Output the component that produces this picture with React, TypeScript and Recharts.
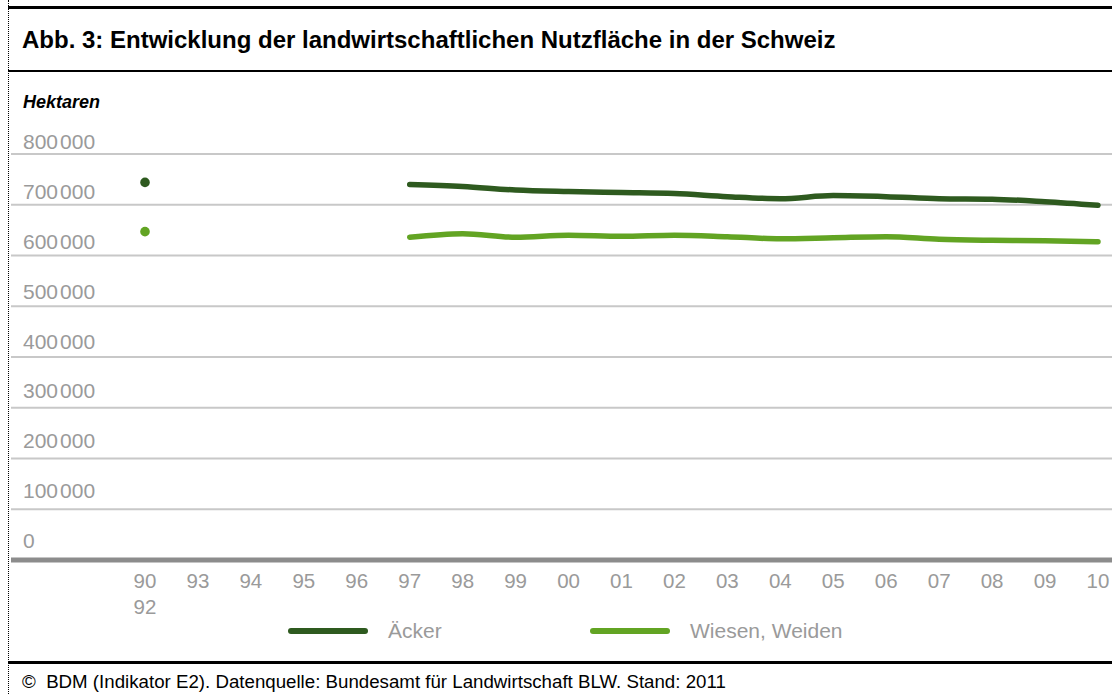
import { CartesianGrid, Line, LineChart, ReferenceLine, XAxis, YAxis } from "recharts";

const years = ["90/92", "93", "94", "95", "96", "97", "98", "99", "00", "01", "02", "03", "04", "05", "06", "07", "08", "09", "10"];
const aecker = [744000, null, null, null, null, 740000, 736000, 729000, 726000, 724000, 722000, 716000, 712000, 718000, 716000, 712000, 711000, 706000, 699000];
const wiesen = [647000, null, null, null, null, 636000, 643000, 636000, 640000, 638000, 640000, 637000, 633000, 635000, 637000, 632000, 630000, 629000, 627000];
const yTicks = [0, 100000, 200000, 300000, 400000, 500000, 600000, 700000, 800000];

const data = years.map((year, i) => ({ year, aecker: aecker[i], wiesen: wiesen[i] }));

const DARK = "#2e5a1f";
const LIGHT = "#62a423";
const GRAY = "#9a9a9a";
const FONT = "'Liberation Sans', Arial, sans-serif";

// tick labels sit a bit higher above the lower gridlines in the original
const renderYTick = ({ y, payload }: any) => {
  const v: number = payload.value;
  const lift = 5 + (1 - v / 800000) * 7;
  const s = String(v);
  return (
    <text key={`y${v}`} x={13} y={y - lift} textAnchor="start" fill={GRAY} fontSize={21} fontFamily={FONT}>
      {v === 0 ? (
        "0"
      ) : (
        <>
          <tspan>{s.slice(0, s.length - 3)}</tspan>
          <tspan dx={2}>{s.slice(-3)}</tspan>
        </>
      )}
    </text>
  );
};

const renderXTick = ({ x, y, payload }: any) => {
  const parts = String(payload.value).split("/");
  return (
    <text key={`x${payload.value}`} x={x} y={y} textAnchor="middle" fill={GRAY} fontSize={20.5} fontFamily={FONT}>
      {parts.map((p, i) => (
        <tspan key={p} x={x} dy={i === 0 ? 20 : 26}>
          {p}
        </tspan>
      ))}
    </text>
  );
};

const firstDot = (color: string) => (props: any) => {
  const { cx, cy, index, value } = props;
  if (index !== 0 || value == null) return <g key={`d${index}`} />;
  return <circle key={`d${index}`} cx={cx} cy={cy} r={4.8} fill={color} stroke="none" />;
};

export default function App() {
  return (
    <div style={{ position: "absolute", left: 0, top: 0, width: 1112, height: 694, background: "#fff", fontFamily: FONT, overflow: "hidden" }}>
      <div style={{ position: "absolute", left: 8, top: 0, height: 694, borderLeft: "1px dotted #000" }} />
      <div style={{ position: "absolute", left: 8, top: 6, width: 1104, height: 3, background: "#000" }} />
      <div style={{ position: "absolute", left: 22, top: 26, fontSize: 24, fontWeight: 700, color: "#000", whiteSpace: "nowrap" }}>
        Abb. 3: Entwicklung der landwirtschaftlichen Nutzfläche in der Schweiz
      </div>
      <div style={{ position: "absolute", left: 8, top: 70, width: 1104, height: 2, background: "#000" }} />
      <div style={{ position: "absolute", left: 23, top: 92, fontSize: 18, fontWeight: 700, fontStyle: "italic", color: "#000" }}>
        Hektaren
      </div>

      <div style={{ position: "absolute", left: 10, top: 120 }}>
        <LineChart width={1102} height={500} data={data} margin={{ top: 34, right: 0, bottom: 0, left: 0 }}>
          <CartesianGrid vertical={false} stroke="#c8c8c8" strokeWidth={2} />
          <YAxis width={1} domain={[0, 800000]} ticks={yTicks} axisLine={false} tickLine={false} tick={renderYTick} interval={0} />
          <XAxis dataKey="year" height={60} axisLine={false} tickLine={false} tick={renderXTick} interval={0} padding={{ left: 134, right: 14 }} />
          <ReferenceLine y={0} stroke="#8c8c8c" strokeWidth={5} />
          <Line dataKey="aecker" type="monotone" stroke={DARK} strokeWidth={5.5} strokeLinecap="round" dot={firstDot(DARK)} activeDot={false} isAnimationActive={false} />
          <Line dataKey="wiesen" type="monotone" stroke={LIGHT} strokeWidth={5.5} strokeLinecap="round" dot={firstDot(LIGHT)} activeDot={false} isAnimationActive={false} />
        </LineChart>
      </div>

      <div style={{ position: "absolute", left: 288, top: 628, width: 80, height: 6, borderRadius: 3, background: DARK }} />
      <div style={{ position: "absolute", left: 388, top: 619, fontSize: 21, color: GRAY }}>Äcker</div>
      <div style={{ position: "absolute", left: 590, top: 628, width: 80, height: 6, borderRadius: 3, background: LIGHT }} />
      <div style={{ position: "absolute", left: 690, top: 619, fontSize: 21, color: GRAY }}>Wiesen, Weiden</div>

      <div style={{ position: "absolute", left: 8, top: 661, width: 1104, height: 3, background: "#000" }} />
      <div style={{ position: "absolute", left: 22, top: 671, fontSize: 18.7, color: "#000", whiteSpace: "pre" }}>
        ©  BDM (Indikator E2). Datenquelle: Bundesamt für Landwirtschaft BLW. Stand: 2011
      </div>
    </div>
  );
}
